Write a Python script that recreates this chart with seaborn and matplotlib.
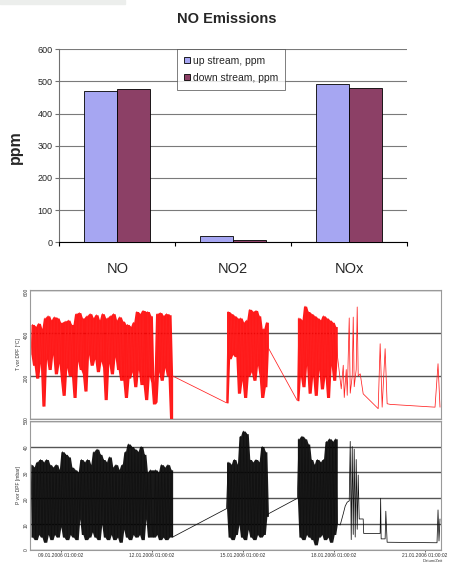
import numpy as np
import pandas as pd
import matplotlib
matplotlib.use("Agg")
import matplotlib.pyplot as plt
import matplotlib.dates as mdates
from matplotlib.patches import Rectangle
import seaborn as sns

# %% Data - bar chart
species = ["NO", "NO2", "NOx"]
up_stream = [471, 19, 493]
down_stream = [476, 6, 481]
series_names = ["up stream, ppm", "down stream, ppm"]
bar_colors = ["#9999FF", "#993366"]

# %% Data - logger traces (time in days since 08.01.2006 00:00)
T0 = pd.Timestamp("2006-01-08 00:00:00")
tick_days = [1.0417, 4.0417, 7.0417, 10.0417, 13.0417]

# temperature before DPF [°C], bursts read as alternating peaks / troughs
temp_run1 = [300, 440, 250, 430, 190, 445, 260, 420, 60,
             470, 280, 480, 230, 460, 300, 475, 210, 470, 260, 450, 180,
             110, 455, 240, 460, 200, 440, 260, 100,
             490, 270, 495, 230, 470, 210, 130,
             480, 300, 490, 250, 470, 280, 485, 220, 460, 270, 490, 240, 90,
             470, 260, 480, 210, 490, 290, 460, 230, 475, 180, 455, 250, 100,
             440, 190, 430, 220, 450, 150,
             500, 230, 490, 160, 505, 210, 90,
             500, 200, 480, 170, 70, 80,
             490, 220, 495, 180, 480, 240, 490, 200, 485, 0, 200]
temp_run2 = [75, 500, 280, 490, 300, 480, 290, 470, 120,
             470, 180, 450, 100, 460, 200,
             510, 220, 500, 180, 505, 250, 480, 200, 100,
             420, 150, 450, 330]
temp_run3 = [85, 470, 200, 460, 150, 525, 250, 500, 120, 490, 200, 480, 110,
             470, 230, 460, 140, 480, 200, 470, 100, 460, 250, 450, 180, 430, 300]
temp_runs = [(0.055, 4.723, temp_run1), (6.499, 7.879, temp_run2), (8.833, 10.148, temp_run3)]
temp_tail_days = [10.279, 10.345, 10.378, 10.444, 10.476, 10.542, 10.575, 10.641,
                  10.674, 10.706, 10.772, 10.805, 10.838, 10.904, 11.002, 11.496,
                  11.561, 11.627, 11.725, 11.791, 11.890, 13.369, 13.468, 13.533]
temp_tail = [140, 250, 100, 230, 110, 470, 120, 200, 474, 150, 230, 521, 200, 210,
             117, 48, 350, 55, 327, 71, 68, 55, 257, 55]

# pressure before DPF [mbar]
pres_run1 = [33, 5, 32, 4, 34, 6,
             35, 5, 34, 3, 35, 6,
             33, 4, 32, 6, 33, 5, 31, 9,
             38, 5, 37, 4, 36, 6,
             32, 5, 31, 4, 30, 12,
             35, 6, 34, 4, 35, 5, 33, 7,
             38, 5, 39, 4, 37, 10,
             35, 5, 34, 4, 36, 6,
             32, 4, 33, 5, 31, 3, 33, 8,
             38, 5, 41, 4, 40, 6, 39, 5,
             38, 6, 40, 4, 37, 12,
             30, 5, 31, 8,
             5, 31, 6, 30, 4,
             33, 5, 32, 4, 33, 5, 31, 5]
pres_run2 = [16, 34, 5, 33, 4, 35, 6, 33, 10,
             44, 5, 46, 4, 45, 8,
             35, 5, 34, 4, 35, 6, 34, 5, 40,
             6, 38, 13, 14]
pres_run3 = [20, 43, 5, 44, 4, 43, 6, 41, 5, 35, 4, 33, 2, 35, 5, 34, 6, 35, 4,
             42, 5, 43, 3, 42, 6, 43, 10]
pres_runs = [(0.055, 4.723, pres_run1), (6.499, 7.879, pres_run2), (8.833, 10.148, pres_run3)]
pres_tail_days = [10.246, 10.345, 10.410, 10.476, 10.542, 10.575, 10.608, 10.641,
                  10.674, 10.706, 10.739, 10.772, 10.805, 10.838, 10.871, 11.002,
                  11.019, 11.561, 11.577, 11.594, 11.725, 11.748, 11.791, 13.435,
                  13.468, 13.500, 13.533]
pres_tail = [9.7, 14, 17, 18.5, 19, 42, 4, 40, 6, 39, 5, 35, 8, 29, 12, 12, 6.4,
             6.4, 20, 4.3, 4.3, 15, 3, 2.8, 15.5, 3.5, 12]


def build_trace(runs, tail_days, tail_vals):
    parts = []
    for i, (start, end, v) in enumerate(runs):
        parts.append(pd.DataFrame({"day": np.linspace(start, end, len(v)), "value": v, "run": i}))
    parts.append(pd.DataFrame({"day": tail_days, "value": tail_vals, "run": -1}))
    df = pd.concat(parts, ignore_index=True)
    df["time"] = T0 + pd.to_timedelta(df["day"], unit="D")
    return df


def draw_trace(ax, df, fill_color, line_color):
    # dense logger bursts: solid band between neighbouring samples
    for run, g in df[df["run"] >= 0].groupby("run"):
        lo = g["value"].rolling(3, center=True, min_periods=1).min()
        hi = g["value"].rolling(3, center=True, min_periods=1).max()
        ax.fill_between(g["time"], lo, hi, color=fill_color, linewidth=0, alpha=0.9)
    sns.lineplot(data=df, x="time", y="value", ax=ax, color=line_color,
                 linewidth=0.55, estimator=None, sort=False)


temp_df = build_trace(temp_runs, temp_tail_days, temp_tail)
pres_df = build_trace(pres_runs, pres_tail_days, pres_tail)

bar_df = pd.DataFrame({
    "species": species * 2,
    "series": [series_names[0]] * 3 + [series_names[1]] * 3,
    "ppm": up_stream + down_stream,
})

# %% Setup
sns.set_theme(style="white")
plt.rcParams['font.family'] = ['Liberation Sans', 'DejaVu Sans']

fig = plt.figure(figsize=(4.53, 5.63), dpi=100)
fig.patches.append(Rectangle((0, 1 - 4 / 563), 125 / 453, 4 / 563,
                             transform=fig.transFigure, color="#eceeec", zorder=0))

# %% Bar chart
ax = fig.add_axes([0.131, 0.5696, 0.7675, 0.3428])
sns.barplot(data=bar_df, x="species", y="ppm", hue="series", order=species,
            hue_order=series_names, palette=bar_colors, width=0.57,
            edgecolor="black", linewidth=0.6, ax=ax, zorder=3)
ax.set_ylim(0, 600)
ax.set_xlim(-0.5, 2.5)
ax.set_yticks(range(0, 601, 100))
ax.yaxis.grid(True, color="#7a7a7a", linewidth=0.8)
ax.set_axisbelow(True)
for s in ["top", "right"]:
    ax.spines[s].set_visible(False)
ax.spines["left"].set_color("#707070")
ax.spines["left"].set_linewidth(0.8)
ax.spines["bottom"].set_color("black")
ax.spines["bottom"].set_linewidth(0.8)
ax.set_xticks([-0.5, 0.5, 1.5, 2.5], minor=True)
ax.tick_params(axis="x", which="major", length=0, pad=14, labelsize=10.5)
ax.tick_params(axis="x", which="minor", length=3, width=0.8, color="black", direction="out", bottom=True)
ax.tick_params(axis="y", length=3, width=0.8, color="#707070", direction="out", left=True,
               labelsize=6.5, pad=2)
ax.set_xlabel("")
ax.set_ylabel("")
fig.text(0.033, 0.739, "ppm", rotation=90, fontsize=11.5, fontweight="bold", ha="center", va="center")
fig.text(0.5, 0.966, "NO Emissions", fontsize=10.5, fontweight="bold", ha="center", va="center")
leg = ax.legend(loc="upper left", bbox_to_anchor=(0.337, 1.003), borderaxespad=0,
                fontsize=7.5, frameon=True, fancybox=False, handlelength=0.55,
                handleheight=0.55, handletextpad=0.3, labelspacing=0.65, borderpad=0.7)
leg.get_frame().set_edgecolor("#444444")
leg.get_frame().set_linewidth(0.6)
for h in leg.legend_handles:
    h.set_edgecolor("black")
    h.set_linewidth(0.6)

# %% Logger traces
xlim = (T0 + pd.Timedelta(days=0.022), T0 + pd.Timedelta(days=13.566))
ticks = [T0 + pd.Timedelta(days=d) for d in tick_days]

ax_t = fig.add_axes([0.0662, 0.2558, 0.9073, 0.2291])
ax_p = fig.add_axes([0.0662, 0.0231, 0.9073, 0.2296])

draw_trace(ax_t, temp_df, "#ff0000", "#ff2020")
draw_trace(ax_p, pres_df, "#000000", "#111111")

ax_t.set_ylim(0, 600)
ax_t.set_yticks([0, 200, 400, 600])
ax_p.set_ylim(0, 50)
ax_p.set_yticks([0, 10, 20, 30, 40, 50])
for a, lab in [(ax_t, "T vor DPF [°C]"), (ax_p, "P vor DPF [mbar]")]:
    a.set_xlim(*xlim)
    a.set_xticks(ticks)
    a.yaxis.grid(True, color="#555555", linewidth=1.0)
    a.set_axisbelow(True)
    for s in a.spines.values():
        s.set_color("#9a9a9a")
        s.set_linewidth(0.8)
    a.tick_params(axis="y", labelsize=3.5, length=0, pad=1, labelrotation=90, colors="#333333")
    a.tick_params(axis="x", labelsize=3.5, length=1.5, width=0.5, pad=0.5, colors="#333333", bottom=True)
    a.set_xlabel("")
    a.set_ylabel(lab, fontsize=3.5, labelpad=2, color="#333333")
ax_t.tick_params(axis="x", labelbottom=False, length=0)
ax_p.xaxis.set_major_formatter(mdates.DateFormatter("%d.%m.%Y %H:%M:%S"))
fig.text(0.955, 0.0, "Datum/Zeit", fontsize=3, color="#333333", ha="center", va="bottom")

fig.savefig("out.png", dpi=100)
